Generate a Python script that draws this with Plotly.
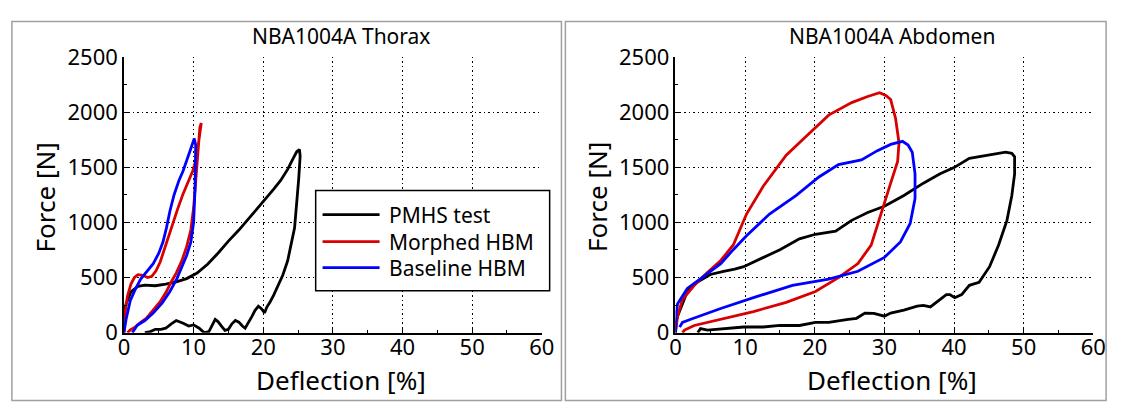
import plotly.graph_objects as go

W, H = 1124, 420

# ---- Thorax data (deflection %, force N) ----
thorax_pmhs_x = [0, 0.3, 1, 2, 3, 4.5, 6, 7.5, 9, 10.5, 12, 13.5, 15, 16.5, 18, 19.5,
                 20.5, 21.5, 22.5, 23.5, 24.3, 24.8, 25.2, 25.3, 25.1, 24.8, 24.5, 24,
                 23.5, 22.8, 22, 21.5, 21, 20.5, 20.2, 19.7, 19.3, 18.8, 18.4, 17.9,
                 17.4, 17, 16.5, 16, 15.5, 15, 14.5, 14, 13.5, 13.1, 12.6, 12.2, 11.5,
                 10.8, 10, 9.3, 8.5, 7.5, 6.8, 6, 5.3, 4.5, 3.8, 3.0]
thorax_pmhs_f = [170, 260, 370, 420, 430, 425, 440, 460, 490, 540, 620, 720, 830, 930,
                 1040, 1150, 1220, 1300, 1380, 1480, 1580, 1640, 1660, 1600, 1400, 1200,
                 950, 800, 650, 520, 400, 340, 280, 230, 180, 220, 240, 200, 150, 90,
                 40, 60, 95, 110, 80, 30, 20, 60, 100, 120, 60, 10, 0, 40, 70, 60, 85,
                 110, 80, 40, 30, 30, 10, 0]

thorax_morphed_x = [0, 0.2, 0.5, 1.0, 1.5, 2.0, 2.7, 3.4, 4.0, 4.6, 5.2, 5.8, 6.4, 7.0,
                    7.7, 8.5, 9.2, 9.9, 10.4, 10.7, 11.0, 11.1, 10.9, 10.7, 10.5, 10.3,
                    10.0, 9.6, 9.0, 8.3, 7.5, 6.7, 6.1, 5.2, 4.2, 3.2, 2.4, 1.6, 0.9, 0.5]
thorax_morphed_f = [0, 200, 330, 440, 500, 525, 520, 500, 510, 560, 640, 760, 880, 1000,
                    1120, 1260, 1370, 1470, 1580, 1700, 1820, 1900, 1860, 1700, 1520,
                    1350, 1130, 930, 780, 650, 540, 450, 373, 280, 204, 130, 93, 50, 25, 0]

thorax_baseline_x = [0, 0.3, 0.9, 1.6, 2.4, 3.3, 4.2, 5.0, 5.6, 6.1, 6.6, 7.2, 7.9, 8.5,
                     9.1, 9.7, 10.1, 10.3, 10.3, 10.2, 10.0, 9.6, 9.0, 8.5, 7.6, 6.6, 5.5,
                     4.2, 3.0, 1.9, 1.2]
thorax_baseline_f = [0, 120, 290, 390, 486, 560, 625, 720, 822, 950, 1103, 1250, 1380,
                     1467, 1580, 1690, 1760, 1700, 1551, 1300, 1000, 820, 700, 625, 490,
                     373, 270, 177, 110, 67, 0]

# ---- Abdomen data ----
abdomen_pmhs_x = [0, 0.1, 0.3, 1.7, 3.1, 5, 6.9, 8.5, 9.8, 12.1, 15, 17.8, 20.1, 23,
                  25.3, 27.6, 30, 32.8, 35.6, 38, 40, 42.2, 45.1, 47.4, 48.3, 48.7, 48.7,
                  48.3, 47.6, 46.4, 45.1, 43.6, 42.2, 41.1, 40.1, 39.4, 38.9, 38, 36.6,
                  35.6, 34.7, 32.8, 30.9, 30, 28.5, 27.2, 26, 24.8, 22, 20.1, 17.8, 15,
                  12.6, 9.8, 6.5, 4.6, 3.6, 3.2]
abdomen_pmhs_f = [0, 100, 149, 373, 457, 527, 556, 575, 598, 668, 752, 850, 892, 920,
                  1018, 1089, 1145, 1243, 1355, 1440, 1496, 1580, 1608, 1636, 1625, 1594,
                  1439, 1243, 1018, 794, 598, 457, 429, 345, 317, 345, 345, 303, 233,
                  247, 241, 205, 177, 149, 175, 177, 130, 121, 93, 93, 65, 65, 51, 51,
                  37, 23, 37, 0]

abdomen_morphed_x = [0, 0.3, 1, 2.7, 4.5, 6.5, 8.3, 10.2, 12.6, 15.9, 18.7, 22, 25.3,
                     27.6, 29.3, 30.2, 30.9, 31.6, 32.1, 31.9, 30.9, 29.5, 28.1, 26.2,
                     23.4, 20.1, 15.9, 11.2, 6.5, 2.7, 1.3, 1.0]
abdomen_morphed_f = [0, 150, 300, 429, 540, 654, 795, 1075, 1327, 1608, 1776, 1972, 2085,
                     2141, 2175, 2150, 2113, 1944, 1720, 1552, 1355, 1075, 794, 626, 499,
                     373, 275, 191, 121, 65, 23, 0]

abdomen_baseline_x = [0, 0.1, 0.3, 1.7, 4.1, 6.5, 8.3, 10.2, 13.5, 17.3, 20.6, 23.4,
                      26.7, 29, 30.9, 32.6, 33.4, 34, 34.4, 34.4, 33.7, 32.3, 30, 26.2,
                      22, 16.8, 11.2, 6.5, 2.2, 1, 0.6]
abdomen_baseline_f = [0, 177, 261, 401, 513, 626, 752, 878, 1075, 1243, 1411, 1524, 1566,
                      1650, 1706, 1734, 1700, 1636, 1439, 1215, 990, 822, 682, 556, 485,
                      429, 317, 219, 121, 93, 50]

titles = ["NBA1004A Thorax", "NBA1004A Abdomen"]
series_names = ["PMHS test", "Morphed HBM", "Baseline HBM"]
series_colors = ["#000000", "#d80000", "#0000ff"]
x_ticks = [0, 10, 20, 30, 40, 50, 60]
y_ticks = [0, 500, 1000, 1500, 2000, 2500]

FONT = "Noto Sans"
DOTS = "1.5px,3px"

panels = [
    [(thorax_pmhs_x, thorax_pmhs_f), (thorax_morphed_x, thorax_morphed_f),
     (thorax_baseline_x, thorax_baseline_f)],
    [(abdomen_pmhs_x, abdomen_pmhs_f), (abdomen_morphed_x, abdomen_morphed_f),
     (abdomen_baseline_x, abdomen_baseline_f)],
]

# plot-area geometry in pixels
plot_left = [120, 681]
plot_w = 425
plot_top, plot_bottom = 44, 341
frames = [(6, 565), (569, 1119)]
frame_top, frame_bottom = 6, 414

fig = go.Figure()

for p, series in enumerate(panels):
    xa = "x" if p == 0 else "x2"
    ya = "y" if p == 0 else "y2"
    for (xs, fs), name, col in zip(series, series_names, series_colors):
        fig.add_trace(go.Scatter(x=xs, y=fs, mode="lines", name=name,
                                 line=dict(color=col, width=2.8),
                                 xaxis=xa, yaxis=ya, showlegend=False))

def xaxis_cfg(p):
    return dict(
        domain=[plot_left[p] / W, (plot_left[p] + plot_w) / W],
        range=[0, 60], tickvals=x_ticks, ticks="inside", ticklen=5, tickwidth=1,
        tickcolor="black", showline=True, linecolor="black", linewidth=1.5,
        showgrid=True, gridcolor="black", griddash=DOTS, gridwidth=1.2,
        zeroline=False, tickfont=dict(family=FONT, size=22, color="black"),
        ticklabelstandoff=-6,
        minor=dict(dtick=5, ticks="inside", ticklen=3, tickcolor="black", showgrid=False),
        anchor="y" if p == 0 else "y2", fixedrange=True,
    )

def yaxis_cfg(p):
    return dict(
        domain=[(H - plot_bottom) / H, (H - plot_top) / H],
        range=[0, 2500], tickvals=y_ticks, ticks="inside", ticklen=5, tickwidth=1,
        tickcolor="black", showline=True, linecolor="black", linewidth=1.5,
        showgrid=True, gridcolor="black", griddash=DOTS, gridwidth=1.2,
        zeroline=False, tickfont=dict(family=FONT, size=22, color="black"),
        minor=dict(dtick=250, ticks="inside", ticklen=3, tickcolor="black", showgrid=False),
        anchor="x" if p == 0 else "x2", fixedrange=True,
    )

shapes = []
annotations = []
for p in range(2):
    fx0, fx1 = frames[p]
    shapes.append(dict(type="rect", xref="paper", yref="paper",
                       x0=fx0 / W, x1=fx1 / W, y0=1 - frame_bottom / H, y1=1 - frame_top / H,
                       line=dict(color="#a0a0a0", width=1.5), fillcolor="rgba(0,0,0,0)",
                       layer="below"))
    cx = (plot_left[p] + plot_w / 2 + 8) / W
    annotations.append(dict(text=titles[p], xref="paper", yref="paper", x=cx, y=1 - 22 / H,
                            xanchor="center", yanchor="middle", showarrow=False,
                            font=dict(family=FONT, size=21, color="black")))
    annotations.append(dict(text="Deflection [%]", xref="paper", yref="paper",
                            x=(plot_left[p] + plot_w / 2 + 8) / W, y=1 - 412 / H,
                            xanchor="center", yanchor="bottom", showarrow=False,
                            borderpad=0,
                            font=dict(family=FONT, size=26, color="black")))
    annotations.append(dict(text="Force [N]", xref="paper", yref="paper",
                            x=(plot_left[p] - 80) / W, y=1 - 195 / H, textangle=-90,
                            xanchor="center", yanchor="middle", showarrow=False,
                            font=dict(family=FONT, size=26, color="black")))

# legend box drawn inside the thorax panel
lg_x0, lg_x1, lg_y0, lg_y1 = 315, 553, 188, 296
shapes.append(dict(type="rect", xref="paper", yref="paper",
                   x0=lg_x0 / W, x1=lg_x1 / W, y0=1 - lg_y1 / H, y1=1 - lg_y0 / H,
                   line=dict(color="black", width=1.5), fillcolor="white", layer="above"))
row_y = [214, 243, 271]
for name, col, ry in zip(series_names, series_colors, row_y):
    shapes.append(dict(type="line", xref="paper", yref="paper",
                       x0=322 / W, x1=380 / W, y0=1 - ry / H, y1=1 - ry / H,
                       line=dict(color=col, width=2.8), layer="above"))
    annotations.append(dict(text=name, xref="paper", yref="paper", x=388 / W, y=1 - ry / H,
                            xanchor="left", yanchor="middle", showarrow=False,
                            font=dict(family=FONT, size=21, color="black")))

fig.update_layout(
    width=W, height=H, margin=dict(l=0, r=0, t=0, b=0),
    paper_bgcolor="white", plot_bgcolor="white",
    xaxis=xaxis_cfg(0), yaxis=yaxis_cfg(0),
    xaxis2=xaxis_cfg(1), yaxis2=yaxis_cfg(1),
    shapes=shapes, annotations=annotations, showlegend=False,
)

fig.write_html("out.html", config={"displayModeBar": False},
               post_script="document.body.style.margin='0';")
